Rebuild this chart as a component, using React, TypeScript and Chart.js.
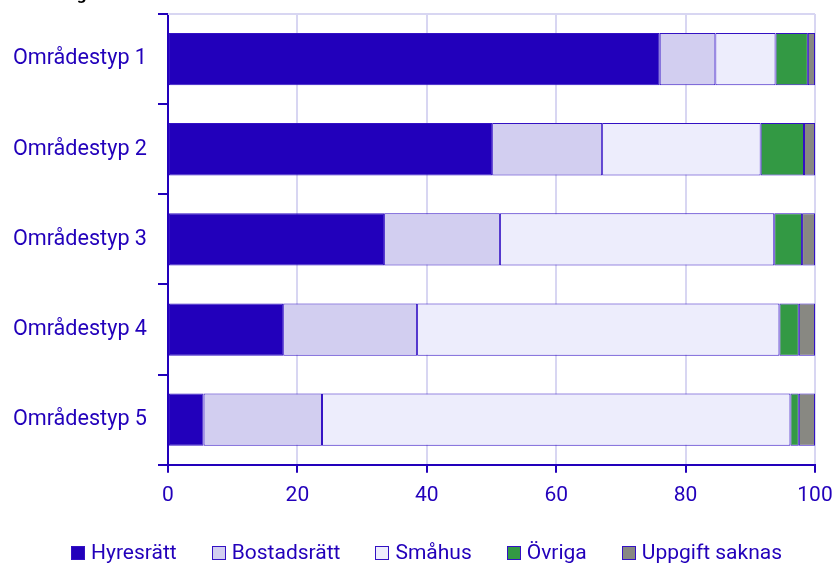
import React, { useEffect, useRef } from "react";
import { Chart, registerables } from "chart.js";

Chart.register(...registerables);

const categories = ["Områdestyp 1", "Områdestyp 2", "Områdestyp 3", "Områdestyp 4", "Områdestyp 5"];
const hyresratt = [76.0, 50.1, 33.4, 17.8, 5.5];
const bostadsratt = [8.6, 17.0, 17.9, 20.7, 18.3];
const smahus = [9.3, 24.5, 42.4, 56.0, 72.4];
const ovriga = [5.0, 6.7, 4.3, 3.0, 1.3];
const uppgiftSaknas = [1.1, 1.7, 2.0, 2.5, 2.5];
const seriesNames = ["Hyresrätt", "Bostadsrätt", "Småhus", "Övriga", "Uppgift saknas"];
const seriesColors = ["#2200bb", "#d2cef0", "#ededfc", "#339944", "#888882"];
const xMin = 0;
const xMax = 100;
const xStep = 20;

const BLUE = "#2200bb";
const GRID = "#d8d6f2";

const topLine = {
  id: "topLine",
  afterDraw(chart: any) {
    const { ctx, chartArea } = chart;
    ctx.save();
    ctx.strokeStyle = GRID;
    ctx.lineWidth = 2;
    ctx.beginPath();
    ctx.moveTo(chartArea.left, chartArea.top);
    ctx.lineTo(chartArea.right, chartArea.top);
    ctx.stroke();
    ctx.restore();
  },
};

export default function App() {
  const ref = useRef<HTMLCanvasElement>(null);

  useEffect(() => {
    if (!ref.current) return;
    const values = [hyresratt, bostadsratt, smahus, ovriga, uppgiftSaknas];
    const chart = new Chart(ref.current, {
      type: "bar",
      data: {
        labels: categories,
        datasets: values.map((v, i) => ({
          label: seriesNames[i],
          data: v,
          backgroundColor: seriesColors[i],
          borderColor: "#3311c4",
          borderWidth: 1,
          borderSkipped: false,
          categoryPercentage: 1,
          barPercentage: 0.58,
        })),
      },
      options: {
        indexAxis: "y",
        animation: false,
        responsive: true,
        maintainAspectRatio: false,
        layout: { padding: { top: 14, right: 19, left: 12, bottom: 47 } },
        plugins: {
          legend: { display: false },
          tooltip: { enabled: false },
          title: { display: false },
        },
        scales: {
          x: {
            stacked: true,
            min: xMin,
            max: xMax,
            afterFit: (s: any) => {
              s.paddingLeft = 0;
              s.paddingRight = 0;
            },
            ticks: { stepSize: xStep, color: BLUE, font: { family: "Roboto", size: 21 }, padding: 10 },
            grid: { color: GRID, lineWidth: 2, tickColor: BLUE, tickLength: 8, tickWidth: 2 },
            border: { color: BLUE, width: 2 },
          },
          y: {
            stacked: true,
            afterFit: (s: any) => {
              s.paddingTop = 0;
              s.paddingBottom = 0;
              s.width = 156;
            },
            ticks: { color: BLUE, font: { family: "Roboto", size: 21.6 }, padding: 11 },
            grid: {
              offset: true,
              drawOnChartArea: false,
              drawTicks: true,
              tickLength: 10,
              color: BLUE,
              lineWidth: 2,
            },
            border: { color: BLUE, width: 2 },
          },
        },
      },
      plugins: [topLine],
    });
    return () => chart.destroy();
  }, []);

  return (
    <div style={{ position: "fixed", left: 0, top: 0, width: 834, height: 565, background: "#fff", overflow: "hidden" }}>
      <div
        style={{
          position: "absolute",
          left: 5,
          top: -16,
          fontFamily: "Roboto",
          fontWeight: 700,
          fontSize: 17,
          color: "#000",
          lineHeight: "20px",
        }}
      >
        Fördelning
      </div>
      <canvas ref={ref} />
      <div
        style={{
          position: "absolute",
          left: 71,
          top: 540,
          display: "flex",
          gap: 35,
          fontFamily: "Roboto",
          fontSize: 21,
          lineHeight: "25px",
          color: BLUE,
        }}
      >
        {seriesNames.map((n, i) => (
          <div key={n} style={{ display: "flex", alignItems: "center" }}>
            <span
              style={{
                display: "inline-block",
                width: 12,
                height: 12,
                background: seriesColors[i],
                border: "1px solid #3311c4",
                marginRight: 6,
              }}
            />
            <span>{n}</span>
          </div>
        ))}
      </div>
    </div>
  );
}
